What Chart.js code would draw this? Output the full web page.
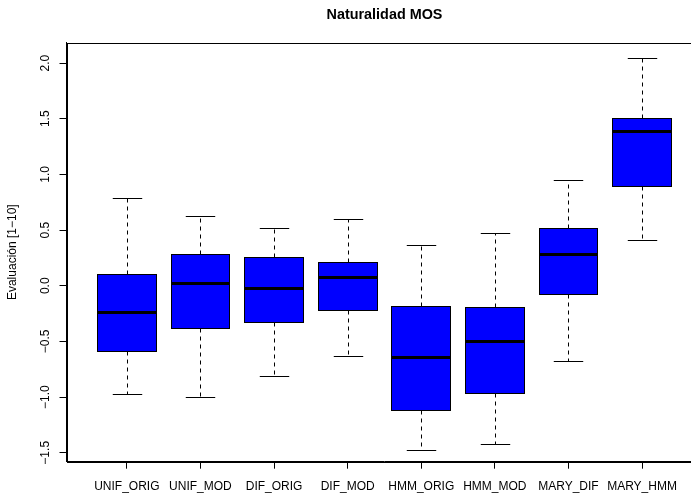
<!DOCTYPE html>
<html>
<head>
<meta charset="utf-8">
<title>Naturalidad MOS</title>
<script src="https://cdn.jsdelivr.net/npm/chart.js@4/dist/chart.umd.min.js"></script>
<style>
  html, body { margin: 0; padding: 0; background: #fff; overflow: hidden; }
  canvas { display: block; }
</style>
</head>
<body>
<canvas id="chart" width="769" height="500"></canvas>
<script>
// Five-number summaries for each synthesis system
const categories = ['UNIF_ORIG', 'UNIF_MOD', 'DIF_ORIG', 'DIF_MOD', 'HMM_ORIG', 'HMM_MOD', 'MARY_DIF', 'MARY_HMM'];
const lowerWhisker = [-0.970, -1.003, -0.811, -0.635, -1.473, -1.420, -0.680, 0.411];
const q1 =           [-0.589, -0.383, -0.326, -0.225, -1.120, -0.970, -0.075, 0.887];
const median =       [-0.239,  0.021, -0.024,  0.075, -0.638, -0.497,  0.282, 1.393];
const q3 =           [ 0.102,  0.282,  0.255,  0.207, -0.189, -0.198,  0.516, 1.500];
const upperWhisker = [ 0.785,  0.623,  0.518,  0.599,  0.368,  0.471,  0.952, 2.049];
const yTickValues = [-1.5, -1.0, -0.5, 0.0, 0.5, 1.0, 1.5, 2.0];

const FONT = '"Liberation Sans", Arial, Helvetica, sans-serif';
const fmt = v => v.toFixed(1).replace('-', '\u2212');

// Whiskers, staples, medians, the frame and rotated y tick labels
const boxplotExtras = {
  id: 'boxplotExtras',
  afterDatasetsDraw(chart) {
    const ctx = chart.ctx;
    const y = chart.scales.y;
    const bars = chart.getDatasetMeta(0).data;
    ctx.save();
    categories.forEach((_, i) => {
      const el = bars[i];
      const w = el.width;
      const cx = Math.round(el.x) + 0.5;
      const top = Math.min(el.y, el.base), bottom = Math.max(el.y, el.base);
      const x0 = Math.floor(el.x - w / 2) + 0.5, x1 = Math.ceil(el.x + w / 2) - 0.5;
      const y0 = Math.floor(top) + 0.5, y1 = Math.ceil(bottom) - 0.5;
      const yLo = Math.round(y.getPixelForValue(lowerWhisker[i])) + 0.5;
      const yHi = Math.round(y.getPixelForValue(upperWhisker[i])) + 0.5;
      const yMed = Math.round(y.getPixelForValue(median[i])) + 0.5;
      ctx.strokeStyle = '#000';
      ctx.lineWidth = 1;
      // box outline enclosing the filled bar
      ctx.strokeRect(x0, y0, x1 - x0, y1 - y0);
      // dashed whiskers
      ctx.setLineDash([4, 4]);
      ctx.beginPath();
      ctx.moveTo(cx, y0); ctx.lineTo(cx, yHi);
      ctx.moveTo(cx, y1); ctx.lineTo(cx, yLo);
      ctx.stroke();
      // staples
      ctx.setLineDash([]);
      ctx.beginPath();
      ctx.moveTo(cx - w / 4, yHi); ctx.lineTo(cx + w / 4, yHi);
      ctx.moveTo(cx - w / 4, yLo); ctx.lineTo(cx + w / 4, yLo);
      ctx.stroke();
      // median
      ctx.lineWidth = 3;
      ctx.beginPath();
      ctx.moveTo(x0 - 0.5, yMed); ctx.lineTo(x1 + 0.5, yMed);
      ctx.stroke();
    });
    ctx.restore();
  },
  afterDraw(chart) {
    const ctx = chart.ctx;
    const a = chart.chartArea;
    const y = chart.scales.y;
    ctx.save();
    ctx.strokeStyle = '#000';
    ctx.lineWidth = 1;
    ctx.strokeRect(Math.round(a.left) + 0.5, Math.round(a.top) + 0.5,
                   Math.round(a.right - a.left), Math.round(a.bottom - a.top));
    // y tick labels, rotated to read upwards
    ctx.fillStyle = '#000';
    ctx.font = '12px ' + FONT;
    ctx.textAlign = 'center';
    ctx.textBaseline = 'middle';
    y.ticks.forEach(t => {
      const py = y.getPixelForValue(t.value);
      ctx.save();
      ctx.translate(46, py);
      ctx.rotate(-Math.PI / 2);
      ctx.fillText(fmt(t.value), 0, 0);
      ctx.restore();
    });
    ctx.restore();
  }
};

new Chart(document.getElementById('chart'), {
  type: 'bar',
  data: {
    datasets: [{
      data: categories.map((_, i) => ({ x: i + 1, y: [q1[i], q3[i]] })),
      backgroundColor: '#0000FF',
      borderWidth: 0,
      borderSkipped: false,
      inflateAmount: 0,
      barPercentage: 1.0,
      categoryPercentage: 0.8
    }]
  },
  options: {
    responsive: false,
    animation: false,
    devicePixelRatio: 1,
    layout: { padding: 0 },
    plugins: {
      legend: { display: false },
      tooltip: { enabled: false },
      title: {
        display: true,
        text: 'Naturalidad MOS',
        color: '#000',
        font: { family: FONT, size: 14.4, weight: 'bold', lineHeight: 1.2 },
        padding: { top: 6, bottom: 19.4 }
      }
    },
    scales: {
      x: {
        type: 'linear',
        min: 0.18,
        max: 8.82,
        offset: false,
        afterBuildTicks: s => { s.ticks = categories.map((_, i) => ({ value: i + 1 })); },
        afterFit: s => { s.height = 38.3; },
        ticks: {
          autoSkip: false,
          maxRotation: 0,
          color: '#000',
          padding: 11,
          font: { family: FONT, size: 12 },
          callback: v => categories[Math.round(v) - 1]
        },
        grid: { offset: false, drawOnChartArea: false, drawTicks: true, tickLength: 7, color: '#000' },
        border: { display: true, color: '#000' }
      },
      y: {
        type: 'linear',
        min: -1.58,
        max: 2.183,
        afterBuildTicks: s => { s.ticks = yTickValues.map(v => ({ value: v })); },
        afterFit: s => { s.width = 66.5; },
        ticks: { display: false },
        grid: { drawOnChartArea: false, drawTicks: true, tickLength: 7, color: '#000' },
        border: { display: true, color: '#000' },
        title: {
          display: true,
          text: 'Evaluación [1\u221210]',
          color: '#000',
          font: { family: FONT, size: 12, lineHeight: 1.2 },
          padding: { top: 5, bottom: 0 }
        }
      },
      // empty right-hand margin so the plot region matches the title's centring
      yRight: {
        type: 'linear',
        position: 'right',
        display: true,
        afterFit: s => { s.width = 66.6; },
        ticks: { display: false },
        grid: { display: false },
        border: { display: false }
      }
    }
  },
  plugins: [boxplotExtras]
});
</script>
</body>
</html>
